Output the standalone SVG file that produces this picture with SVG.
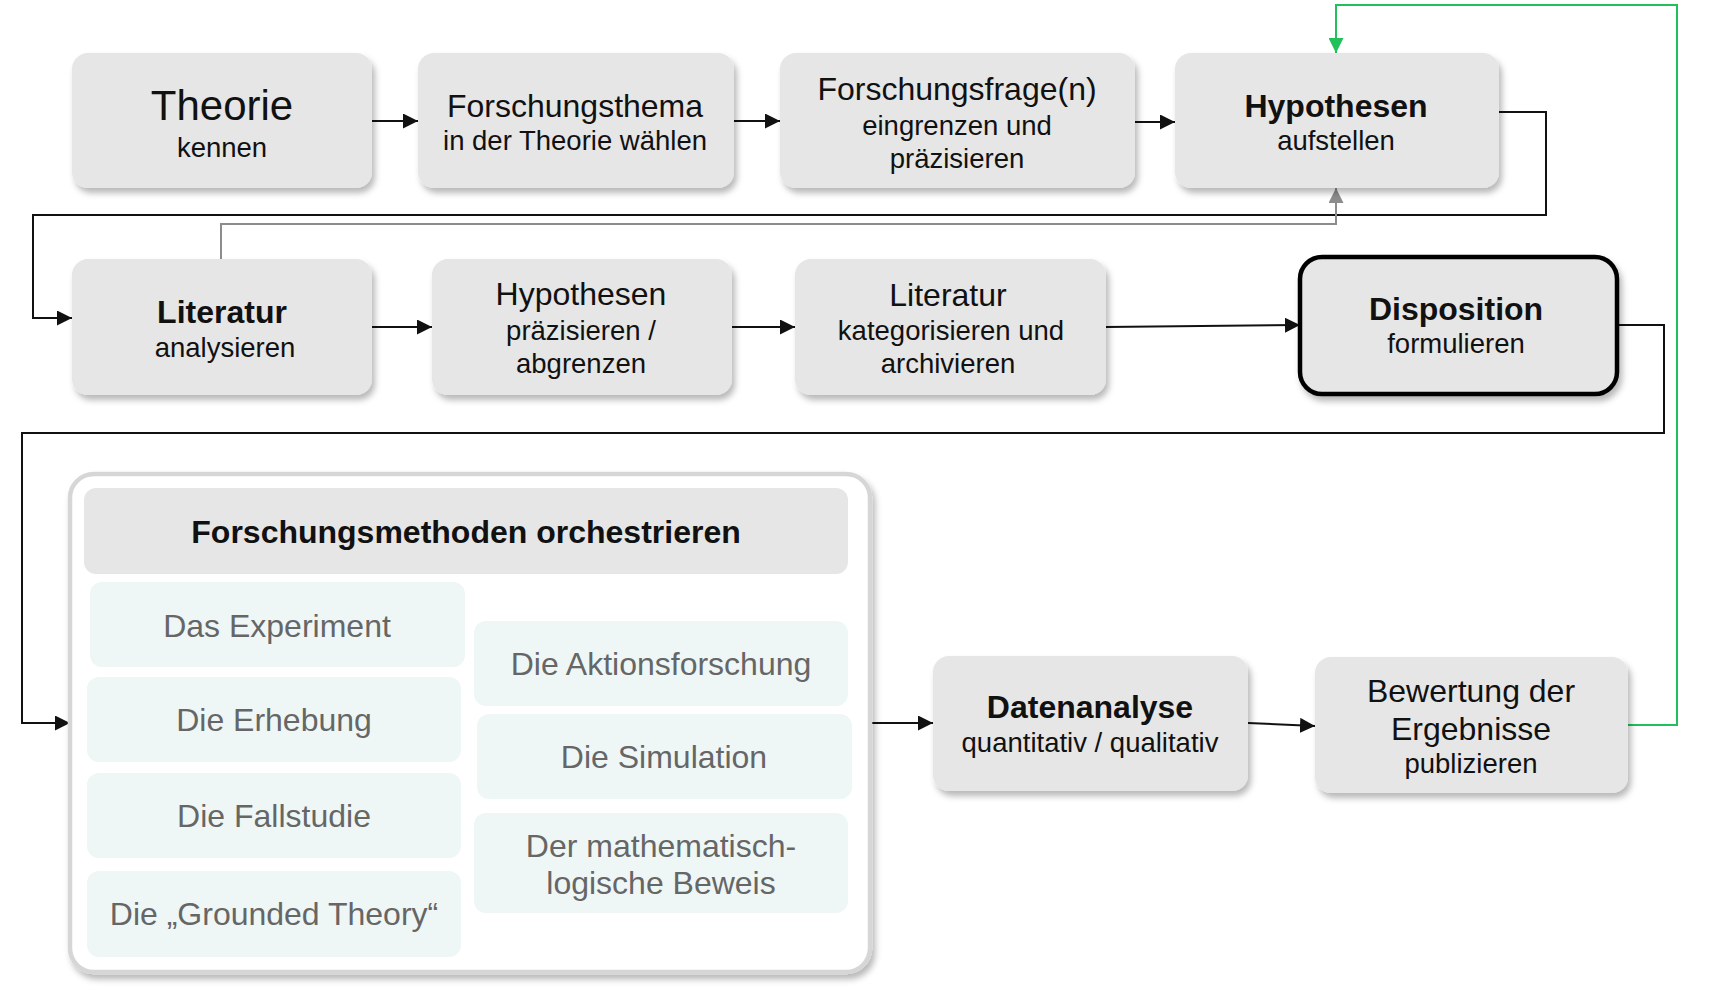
<svg xmlns="http://www.w3.org/2000/svg" width="1736" height="994" viewBox="0 0 1736 994">
<style>
.box{fill:#e6e6e6;filter:url(#sh)}
.t{font-family:"Liberation Sans",Arial,sans-serif;fill:#111;text-anchor:middle}
.big{font-size:32px}
.sm{font-size:27.5px}
.b{font-weight:bold}
.m{fill:#eef7f6}
.mt{font-family:"Liberation Sans",Arial,sans-serif;fill:#666;font-size:32px;text-anchor:middle}
.c{fill:none;stroke:#111;stroke-width:2}
</style>
<defs>
<filter id="sh" x="-10%" y="-10%" width="125%" height="130%">
<feDropShadow dx="3" dy="5" stdDeviation="3" flood-color="#000" flood-opacity="0.28"/>
</filter>
<marker id="ab" markerUnits="userSpaceOnUse" markerWidth="17" markerHeight="15" refX="15" refY="7.5" orient="auto"><path d="M0,0 L15,7.5 L0,15 Z" fill="#111"/></marker>
<marker id="ag" markerUnits="userSpaceOnUse" markerWidth="17" markerHeight="15" refX="15" refY="7.5" orient="auto"><path d="M0,0 L15,7.5 L0,15 Z" fill="#8c8c8c"/></marker>
<marker id="agr" markerUnits="userSpaceOnUse" markerWidth="17" markerHeight="15" refX="15" refY="7.5" orient="auto"><path d="M0,0 L15,7.5 L0,15 Z" fill="#22c05a"/></marker>
</defs>
<rect width="1736" height="994" fill="#fff"/>

<g id="connectors">
<path class="c" d="M372,121 H418" marker-end="url(#ab)"/>
<path class="c" d="M734,121 H780" marker-end="url(#ab)"/>
<path class="c" d="M1135,122 H1175" marker-end="url(#ab)"/>
<path class="c" d="M1499,112 H1546 V215 H33 V318 H72" marker-end="url(#ab)"/>
<path fill="none" stroke="#8c8c8c" stroke-width="2" d="M221,259 V224 H1336 V188" marker-end="url(#ag)"/>
<path class="c" d="M372,327 H432" marker-end="url(#ab)"/>
<path class="c" d="M732,327 H795" marker-end="url(#ab)"/>
<path class="c" d="M1106,327 L1300,325" marker-end="url(#ab)"/>
<path class="c" d="M1617,325 H1664 V433 H22 V723 H70" marker-end="url(#ab)"/>
<path class="c" d="M870,723 H933" marker-end="url(#ab)"/>
<path class="c" d="M1248,723 L1315,726" marker-end="url(#ab)"/>
<path fill="none" stroke="#22c05a" stroke-width="2" d="M1628,725 H1677 V5 H1336 V53" marker-end="url(#agr)"/>
</g>

<g id="theorie">
<rect class="box" x="72" y="53" width="300" height="135" rx="16"/>
<text class="t" x="222" y="120" font-size="42">Theorie</text>
<text class="t sm" x="222" y="157">kennen</text>
</g>
<g id="forschungsthema">
<rect class="box" x="418" y="53" width="316" height="135" rx="16"/>
<text class="t big" x="575" y="117">Forschungsthema</text>
<text class="t sm" x="575" y="150">in der Theorie wählen</text>
</g>
<g id="forschungsfrage">
<rect class="box" x="780" y="53" width="355" height="135" rx="16"/>
<text class="t big" x="957" y="100">Forschungsfrage(n)</text>
<text class="t sm" x="957" y="135">eingrenzen und</text>
<text class="t sm" x="957" y="168">präzisieren</text>
</g>
<g id="hypothesen-aufstellen">
<rect class="box" x="1175" y="53" width="324" height="135" rx="16"/>
<text class="t big b" x="1336" y="117">Hypothesen</text>
<text class="t sm" x="1336" y="150">aufstellen</text>
</g>

<g id="literatur-analysieren">
<rect class="box" x="72" y="259" width="300" height="136" rx="16"/>
<text class="t big b" x="222" y="323">Literatur</text>
<text class="t sm" x="225" y="357">analysieren</text>
</g>
<g id="hypothesen-praezisieren">
<rect class="box" x="432" y="259" width="300" height="136" rx="16"/>
<text class="t big" x="581" y="305">Hypothesen</text>
<text class="t sm" x="581" y="340">präzisieren /</text>
<text class="t sm" x="581" y="373">abgrenzen</text>
</g>
<g id="literatur-kategorisieren">
<rect class="box" x="795" y="259" width="311" height="136" rx="16"/>
<text class="t big" x="948" y="306">Literatur</text>
<text class="t sm" x="951" y="340">kategorisieren und</text>
<text class="t sm" x="948" y="373">archivieren</text>
</g>
<g id="disposition">
<rect class="box" x="1300" y="257" width="317" height="137" rx="22" stroke="#000" stroke-width="4.5"/>
<text class="t big b" x="1456" y="320">Disposition</text>
<text class="t sm" x="1456" y="353">formulieren</text>
</g>

<g id="forschungsmethoden">
<rect x="70" y="474" width="800" height="498" rx="24" fill="#fff" stroke="#d6d6d6" stroke-width="4.5" filter="url(#sh)"/>
<rect x="84" y="488" width="764" height="86" rx="12" fill="#e6e6e6"/>
<text class="t b" x="466" y="543" font-size="32">Forschungsmethoden orchestrieren</text>
<g id="m-experiment"><rect class="m" x="90" y="582" width="375" height="85" rx="12"/><text class="mt" x="277" y="637">Das Experiment</text></g>
<g id="m-erhebung"><rect class="m" x="87" y="677" width="374" height="85" rx="12"/><text class="mt" x="274" y="731">Die Erhebung</text></g>
<g id="m-fallstudie"><rect class="m" x="87" y="773" width="374" height="85" rx="12"/><text class="mt" x="274" y="827">Die Fallstudie</text></g>
<g id="m-grounded"><rect class="m" x="87" y="871" width="374" height="86" rx="12"/><text class="mt" x="274" y="925">Die „Grounded Theory“</text></g>
<g id="m-aktion"><rect class="m" x="474" y="621" width="374" height="85" rx="12"/><text class="mt" x="661" y="675">Die Aktionsforschung</text></g>
<g id="m-simulation"><rect class="m" x="477" y="714" width="375" height="85" rx="12"/><text class="mt" x="664" y="768">Die Simulation</text></g>
<g id="m-beweis"><rect class="m" x="474" y="813" width="374" height="100" rx="12"/><text class="mt" x="661" y="857">Der mathematisch-</text><text class="mt" x="661" y="894">logische Beweis</text></g>
</g>

<g id="datenanalyse">
<rect class="box" x="933" y="656" width="315" height="135" rx="16"/>
<text class="t big b" x="1090" y="718">Datenanalyse</text>
<text class="t sm" x="1090" y="752">quantitativ / qualitativ</text>
</g>
<g id="bewertung">
<rect class="box" x="1315" y="657" width="313" height="136" rx="16"/>
<text class="t big" x="1471" y="702">Bewertung der</text>
<text class="t big" x="1471" y="740">Ergebnisse</text>
<text class="t sm" x="1471" y="773">publizieren</text>
</g>
</svg>
